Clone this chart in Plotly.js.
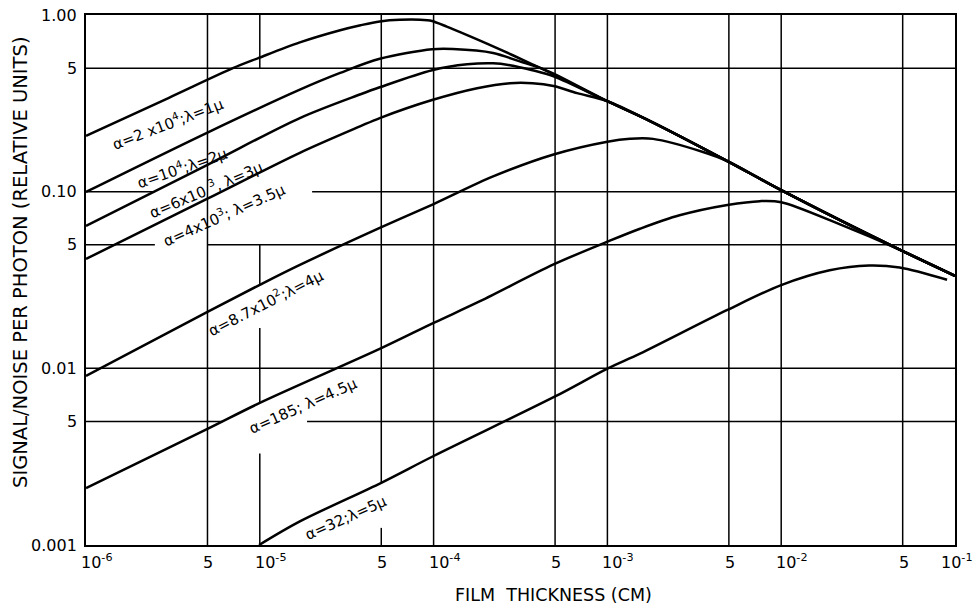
<!DOCTYPE html>
<html>
<head>
<meta charset="utf-8">
<script src="https://cdn.plot.ly/plotly-3.0.1.min.js"></script>
<style>
  html, body { margin: 0; padding: 0; background: #fff; }
  #chart { width: 976px; height: 608px; }
</style>
</head>
<body>
<div id="chart"></div>
<script>
// Film thickness (cm) and signal/noise per photon (relative units), one pair per absorption curve
const x1  = [1e-6, 3e-6, 7e-6, 9.8e-6, 1.7e-5, 2.9e-5, 3.8e-5, 4.9e-5, 6.4e-5, 9.2e-5, 9.8e-5, 1.19e-4, 1.56e-4, 2.2e-4, 3.7e-4, 4.9e-4, 1e-3, 1.76e-3, 4.9e-3, 1e-2, 4.8e-2, 0.1];
const sn1 = [0.207, 0.34, 0.50, 0.57, 0.70, 0.82, 0.875, 0.92, 0.94, 0.935, 0.925, 0.86, 0.77, 0.665, 0.526, 0.462, 0.325, 0.251, 0.149, 0.102, 0.047, 0.0334];

const x2  = [1e-6, 5e-6, 1.7e-5, 2.9e-5, 4.9e-5, 9.8e-5, 1.29e-4, 2.2e-4, 3.1e-4, 4.1e-4, 4.9e-4, 1e-3, 1.76e-3, 4.9e-3, 1e-2, 4.8e-2, 0.1];
const sn2 = [0.0996, 0.216, 0.378, 0.47, 0.565, 0.64, 0.642, 0.61, 0.548, 0.502, 0.465, 0.325, 0.251, 0.149, 0.102, 0.047, 0.0334];

const x3  = [1e-6, 5e-6, 1.7e-5, 3.8e-5, 4.9e-5, 9.8e-5, 1.56e-4, 2.2e-4, 2.75e-4, 3.7e-4, 4.9e-4, 1e-3, 1.76e-3, 4.9e-3, 1e-2, 4.8e-2, 0.1];
const sn3 = [0.064, 0.142, 0.261, 0.356, 0.39, 0.487, 0.526, 0.533, 0.52, 0.487, 0.45, 0.325, 0.251, 0.149, 0.102, 0.047, 0.0334];

const x4  = [1e-6, 5e-6, 1.7e-5, 3.8e-5, 4.9e-5, 9.8e-5, 1.78e-4, 2.75e-4, 3.7e-4, 4.9e-4, 6.7e-4, 1e-3, 1.76e-3, 4.9e-3, 1e-2, 4.8e-2, 0.1];
const sn4 = [0.0416, 0.0912, 0.166, 0.235, 0.261, 0.330, 0.385, 0.411, 0.411, 0.396, 0.361, 0.325, 0.251, 0.149, 0.102, 0.047, 0.0334];

const x5  = [1e-6, 5e-6, 1e-5, 1.7e-5, 4.9e-5, 1e-4, 2.2e-4, 4.9e-4, 1e-3, 1.35e-3, 1.83e-3, 3.55e-3, 4.9e-3, 1e-2, 4.8e-2, 0.1];
const sn5 = [0.00906, 0.0209, 0.0297, 0.0385, 0.0623, 0.0851, 0.122, 0.1624, 0.1919, 0.1993, 0.199, 0.1678, 0.149, 0.102, 0.047, 0.0334];

const x6  = [1e-6, 5e-6, 1e-5, 5e-5, 1e-4, 1.85e-4, 4.9e-4, 1e-3, 1.54e-3, 2.6e-3, 4.9e-3, 7.55e-3, 1e-2, 2.18e-2, 4.8e-2, 0.1];
const sn6 = [0.0021, 0.00454, 0.00637, 0.0130, 0.01807, 0.02398, 0.03873, 0.0521, 0.0617, 0.0735, 0.0841, 0.0884, 0.0872, 0.0653, 0.047, 0.0334];

const x7  = [9.9e-6, 1.7e-5, 5e-5, 1e-4, 5e-4, 1e-3, 1.54e-3, 4.9e-3, 1e-2, 1.9e-2, 3.2e-2, 4.8e-2, 9e-2];
const sn7 = [0.001, 0.00136, 0.00225, 0.00319, 0.00693, 0.00996, 0.0121, 0.0214, 0.0296, 0.0359, 0.0382, 0.0372, 0.0317];

const curveLabels = [
  'α=2 x10<sup>4</sup>;λ=1µ',
  'α=10<sup>4</sup>;λ=2µ',
  'α=6x10 <sup>3</sup>, λ=3µ',
  'α=4x10<sup>3</sup>; λ=3.5µ',
  'α=8.7x10<sup>2</sup>;λ=4µ',
  'α=185; λ=4.5µ',
  'α=32;λ=5µ'
];

const xTickVals = [1e-6, 5e-6, 1e-5, 5e-5, 1e-4, 5e-4, 1e-3, 5e-3, 1e-2, 5e-2, 1e-1];
const xTickText = ['10<sup>-6</sup>', '5', '10<sup>-5</sup>', '5', '10<sup>-4</sup>', '5', '10<sup>-3</sup>', '5', '10<sup>-2</sup>', '5', '10<sup>-1</sup>'];
const yTickVals = [1, 0.5, 0.1, 0.05, 0.01, 0.005, 0.001];
const yTickText = ['1.00', '5', '0.10', '5', '0.01', '5', '0.001'];

const xTitle = 'FILM\u00a0\u00a0THICKNESS (CM)';
const yTitle = 'SIGNAL/NOISE PER PHOTON (RELATIVE UNITS)';

// ---- drawing ----
const FONT = 'DejaVu Sans, Liberation Sans, sans-serif';
const INK = '#000';

// Grid rulings; the hand-lettered labels sit in breaks of the ruling
const gridX = [5e-6, 1e-5, 5e-5, 1e-4, 5e-4, 1e-3, 5e-3, 1e-2, 5e-2];
const gridY = [0.5, 0.1, 0.05, 0.01, 0.005];
const breaksX = {
  '5e-6': [[0.0124, 0.0209], [0.05, 0.43]],
  '0.00001': [[0.0033, 0.00637], [0.0169, 0.0297], [0.05, 0.5]],
  '0.00005': [[0.00125, 0.00225]]
};
const breaksY = {
  '0.1': [[2.49e-6, 2.0e-5]],
  '0.05': [[2.49e-6, 5e-6]],
  '0.005': [[6.14e-6, 1.87e-5]]
};

function pieces(lo, hi, gaps) {
  const out = [];
  let start = lo;
  (gaps || []).forEach(g => { out.push([start, g[0]]); start = g[1]; });
  out.push([start, hi]);
  return out;
}

const gx = [], gy = [];
gridX.forEach(v => {
  pieces(0.001, 1, breaksX[String(v)]).forEach(p => { gx.push(v, v, null); gy.push(p[0], p[1], null); });
});
gridY.forEach(v => {
  pieces(1e-6, 0.1, breaksY[String(v)]).forEach(p => { gx.push(p[0], p[1], null); gy.push(v, v, null); });
});

const traces = [{
  x: gx, y: gy, type: 'scatter', mode: 'lines',
  line: { color: INK, width: 1.5 }, hoverinfo: 'skip', connectgaps: false
}];

const seriesX = [x1, x2, x3, x4, x5, x6, x7];
const seriesY = [sn1, sn2, sn3, sn4, sn5, sn6, sn7];
seriesX.forEach((xs, i) => {
  traces.push({
    x: xs, y: seriesY[i], type: 'scatter', mode: 'lines',
    name: curveLabels[i],
    line: { color: INK, width: 2.5, shape: 'spline', smoothing: 0.9 }
  });
});

const annotations = [];

// curve labels: [log10 x, log10 y, angle]
const labelPlace = [
  [-5.53, -0.612, -21],
  [-5.445, -0.862, -19],
  [-5.31, -0.985, -23],
  [-5.205, -1.128, -24],
  [-4.965, -1.625, -27],
  [-4.752, -2.212, -24],
  [-4.505, -2.845, -24]
];
curveLabels.forEach((t, i) => {
  const p = labelPlace[i];
  annotations.push({
    xref: 'x', yref: 'y', x: p[0], y: p[1], text: t, textangle: p[2],
    showarrow: false, xanchor: 'center', yanchor: 'middle',
    font: { family: FONT, size: 15, color: INK }
  });
});

xTickVals.forEach((v, i) => {
  const pow = xTickText[i].indexOf('10') === 0;
  const last = i === xTickVals.length - 1;
  annotations.push({
    xref: 'x', yref: 'paper', x: Math.log10(v), y: 0,
    xanchor: last ? 'right' : (pow ? 'left' : 'center'), yanchor: 'top',
    xshift: last ? 20 : (pow ? -7 : 1), yshift: pow ? -4 : -6,
    text: xTickText[i], showarrow: false,
    font: { family: FONT, size: 16, color: INK }
  });
});

yTickVals.forEach((v, i) => {
  annotations.push({
    xref: 'paper', yref: 'y', x: 0, y: Math.log10(v),
    xanchor: 'right', yanchor: 'middle', xshift: -7,
    text: yTickText[i], showarrow: false,
    font: { family: FONT, size: 16, color: INK }
  });
});

annotations.push({
  xref: 'paper', yref: 'paper', x: 0.5374, y: -0.094,
  xanchor: 'center', yanchor: 'middle', text: xTitle, showarrow: false,
  font: { family: FONT, size: 17.5, color: INK }
});
annotations.push({
  xref: 'paper', yref: 'paper', x: -0.0748, y: 0.534,
  xanchor: 'center', yanchor: 'middle', text: yTitle, textangle: -90, showarrow: false,
  font: { family: FONT, size: 19.5, color: INK }
});

const axisBase = {
  type: 'log', showgrid: false, zeroline: false, showticklabels: false, ticks: '',
  showline: true, mirror: true, linecolor: INK, linewidth: 1.6
};

const layout = {
  width: 976, height: 608,
  margin: { l: 86, r: 21, t: 15, b: 63, pad: 0 },
  paper_bgcolor: '#fff', plot_bgcolor: '#fff',
  showlegend: false,
  xaxis: Object.assign({ range: [-6, -1] }, axisBase),
  yaxis: Object.assign({ range: [-3, 0] }, axisBase),
  annotations: annotations
};

Plotly.newPlot('chart', traces, layout, { staticPlot: true, displayModeBar: false });
</script>
</body>
</html>
